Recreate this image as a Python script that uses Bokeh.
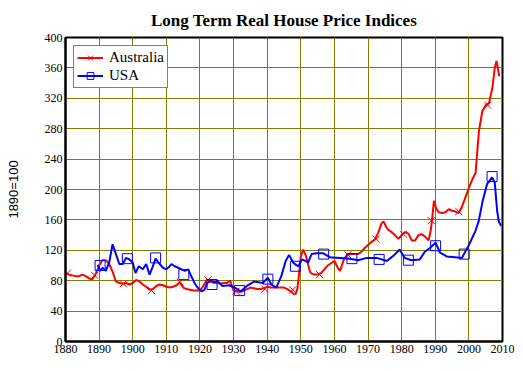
from bokeh.plotting import figure
from bokeh.models import FixedTicker, Range1d, Legend, LegendItem
from bokeh.embed import file_html
from bokeh.resources import INLINE

title_text = "Long Term Real House Price Indices"
y_label = "1890=100"
x_ticks = list(range(1880, 2011, 10))
y_ticks = list(range(0, 401, 40))

aus_years = [1880, 1881, 1882, 1883, 1884, 1885, 1886, 1887, 1888, 1889, 1890, 1891, 1892, 1893,
             1894, 1895, 1896, 1897, 1898, 1899, 1900, 1901, 1902, 1903, 1904, 1905, 1906, 1907,
             1908, 1909, 1910, 1911, 1912, 1913, 1914, 1915, 1916, 1917, 1918, 1919, 1920, 1921,
             1922, 1923, 1924, 1925, 1926, 1927, 1928, 1929, 1930, 1931, 1932, 1933, 1934, 1935,
             1936, 1937, 1938, 1939, 1940, 1941, 1942, 1943, 1944, 1945, 1946, 1947, 1948, 1948.5,
             1949, 1949.5, 1950, 1950.7, 1951.5, 1952, 1952.5, 1953, 1954, 1955, 1956, 1957, 1958,
             1959, 1960, 1961, 1961.7, 1962.5, 1963, 1964, 1965, 1966, 1967, 1968, 1969, 1970,
             1971, 1972, 1973, 1974, 1974.6, 1975.5, 1976, 1977, 1978, 1979, 1980, 1981, 1982,
             1983, 1984, 1985, 1986, 1987, 1988, 1988.6, 1989, 1989.6, 1990.3, 1991, 1992, 1993,
             1994, 1995, 1996, 1997, 1998, 1999, 2000, 2001, 2002, 2002.5, 2003, 2004, 2005, 2006,
             2007, 2007.7, 2008.2, 2008.7, 2009]
aus_vals = [90, 88, 87, 86, 86, 88, 86, 83, 82, 89, 100, 107, 107, 102,
            92, 79, 77, 76, 77, 75, 77, 81, 79, 75, 72, 68, 69, 73,
            75, 74, 72, 71, 72, 74, 78, 71, 69, 68, 67, 67, 67, 73,
            81, 81, 79, 77, 76, 77, 77, 80, 67, 66, 65, 67, 69, 71,
            70, 69, 69, 70, 72, 71, 71, 71, 71, 71, 69, 66, 62, 63,
            70, 90, 112, 121, 113, 105, 95, 90, 88, 88, 90, 95, 100,
            103, 106, 97, 93, 104, 110, 114, 115, 115, 115, 118, 123, 127,
            131, 134, 143, 155, 158, 150, 147, 144, 140, 135, 140, 144, 142,
            133, 133, 140, 141, 138, 133, 145, 158, 185, 175, 170, 169, 170,
            174, 172, 171, 169, 178, 190, 202, 213, 222, 250, 277, 303, 311, 314,
            334, 360, 369, 358, 349]

usa_years = [1889.6, 1890.3, 1891, 1892, 1893, 1894, 1895, 1896, 1897, 1898, 1899, 1900,
             1900.8, 1901.8, 1903, 1904, 1905, 1905.8, 1906.8, 1908, 1909, 1910, 1911, 1911.5,
             1912.5, 1913.5, 1914.5, 1915.5, 1916.5, 1917.4, 1918.5, 1919.5, 1920.5, 1921.3,
             1922.2, 1923.2, 1924.2, 1925.2, 1926.7, 1928.7, 1930.7, 1932.2, 1934.2, 1936.2,
             1938.7, 1940.2, 1941.2, 1942.7, 1944.2, 1945.5, 1946.5, 1947.7, 1948.5, 1949.3,
             1950.3, 1951.3, 1952.2, 1953.2, 1954.7, 1956.7, 1958.6, 1961.6, 1964.6, 1967.1,
             1969.6, 1972.6, 1975.6, 1977.6, 1979.4, 1980.9, 1982.9, 1985.4, 1986.9, 1988.4,
             1990.1, 1991.4, 1993.4, 1995.9, 1997.9, 1999.9, 2001.9, 2002.9, 2004.1, 2005.4,
             2006.9, 2007.7, 2008.4, 2008.9, 2009.6]
usa_vals = [101, 93, 97, 93, 104, 128, 115, 102, 102, 110, 108, 104,
            90, 99, 95, 102, 88, 97, 109, 102, 97, 95, 99, 102,
            99, 97, 95, 93, 95, 86, 76, 70, 66, 68,
            77, 80, 77, 80, 73, 74, 70, 66, 74, 79,
            77, 84, 75, 71, 86, 106, 114, 104, 101, 99,
            108, 106, 104, 115, 116, 116, 111, 110, 109, 107,
            110, 110, 106, 113, 121, 110, 107, 108, 118, 123,
            130, 117, 112, 111, 110, 126, 145, 158, 185, 207,
            216, 209, 172, 158, 152]

aus_marker_years = [1880.6, 1888.7, 1897.2, 1905.6, 1914.1, 1922.4, 1930.7, 1939.3,
                    1947.6, 1955.6, 1964.0, 1972.4, 1980.6, 1988.8, 1997.0, 2005.6]
aus_marker_vals = [90, 87, 76, 67, 78, 81, 66, 69, 68, 88, 114, 135, 141, 159, 171, 311]

usa_marker_years = [1890.3, 1898.4, 1906.8, 1915.2, 1923.6, 1931.8, 1940.2, 1948.4,
                    1956.8, 1965.2, 1973.3, 1982.0, 1990.1, 1998.6, 2006.9]
usa_marker_vals = [100, 109, 110, 88, 75, 67, 82, 99, 115, 109, 108, 107, 126, 115, 217]

SERIF = "Liberation Serif"

p = figure(width=523, height=371, output_backend="svg", toolbar_location=None,
           x_range=Range1d(1880, 2010), y_range=Range1d(0, 400),
           min_border_left=65, min_border_right=21, min_border_top=37, min_border_bottom=30)
p.title.text = title_text
p.title.align = "center"
p.title.text_font = SERIF
p.title.text_font_size = "17px"
p.title.text_font_style = "bold"
p.title.text_color = "black"
p.title.standoff = 16

p.outline_line_color = "black"
p.outline_line_width = 2
p.outline_line_alpha = 1
p.background_fill_color = "white"
p.border_fill_color = "white"

for ax in (p.xaxis[0], p.yaxis[0]):
    ax.major_tick_in = 0
    ax.major_tick_out = 0
    ax.minor_tick_in = 0
    ax.minor_tick_out = 0
    ax.axis_line_color = "black"
    ax.axis_line_width = 2
    ax.major_label_text_font = SERIF
    ax.major_label_text_font_size = "12px"
    ax.major_label_text_color = "black"

p.xaxis.ticker = FixedTicker(ticks=x_ticks)
p.yaxis.ticker = FixedTicker(ticks=y_ticks)
p.xaxis.major_label_standoff = 3
p.xaxis.axis_label_standoff = 0
p.yaxis.major_label_standoff = 3
p.yaxis.axis_label = y_label
p.yaxis.axis_label_text_font = "Liberation Sans"
p.yaxis.axis_label_text_font_size = "13px"
p.yaxis.axis_label_text_font_style = "normal"
p.yaxis.axis_label_text_color = "black"
p.yaxis.axis_label_standoff = 21

p.xgrid.ticker = FixedTicker(ticks=x_ticks)
p.ygrid.ticker = FixedTicker(ticks=y_ticks)
for g in (p.xgrid[0], p.ygrid[0]):
    g.grid_line_color = "#808000"
    g.grid_line_width = 1
    g.grid_line_alpha = 1

aus_line = p.line(aus_years, aus_vals, line_color="#ff0000", line_width=2)
aus_mk = p.scatter(aus_marker_years, aus_marker_vals, marker="x", size=10,
                   line_color="#ff0000", line_width=1)
usa_line = p.line(usa_years, usa_vals, line_color="#0000ff", line_width=2)
usa_mk = p.scatter(usa_marker_years, usa_marker_vals, marker="square", size=10,
                   line_color="#0000ff", fill_alpha=0, line_width=1)

legend = Legend(items=[LegendItem(label="Australia", renderers=[aus_line, aus_mk]),
                       LegendItem(label="USA", renderers=[usa_line, usa_mk])],
                location="top_left", margin=8, padding=3, spacing=1,
                glyph_width=26, glyph_height=17, label_height=17, label_standoff=6,
                label_text_font=SERIF, label_text_font_size="15px", label_text_color="black",
                border_line_color="black", border_line_width=1,
                background_fill_color="white", background_fill_alpha=1)
p.add_layout(legend)

open("out.html", "w").write(file_html(p, INLINE))
